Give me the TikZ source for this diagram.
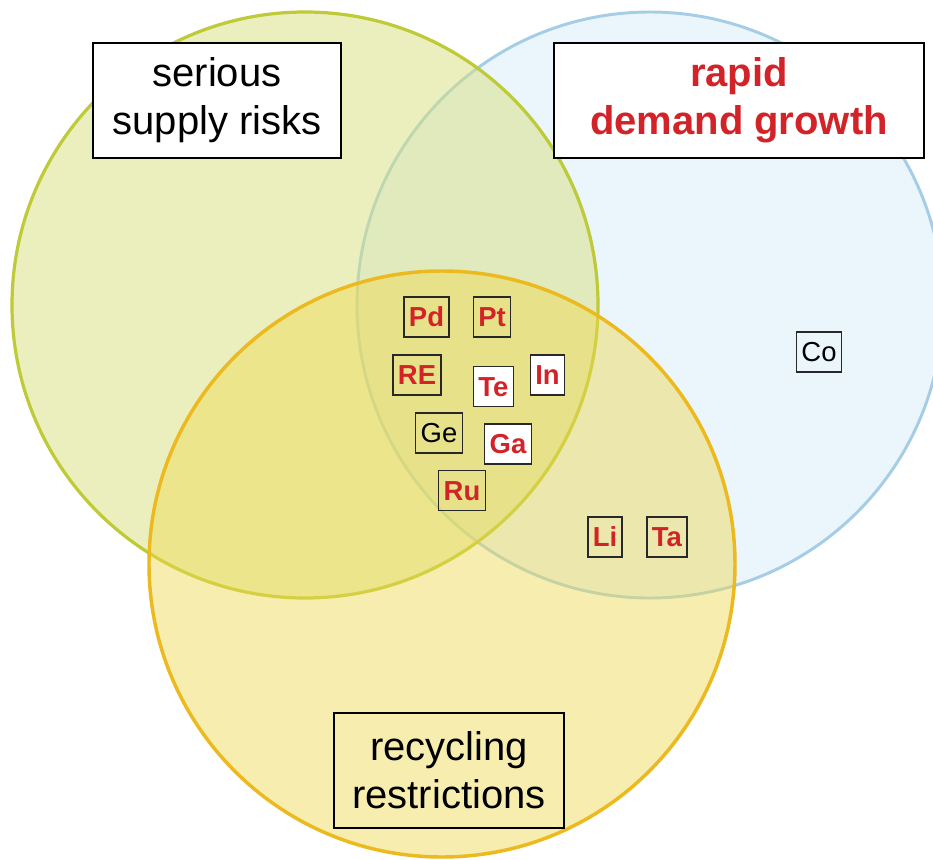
\documentclass[tikz,border=0pt]{standalone}
\usepackage{fontspec}
\setmainfont{Liberation Sans}
\definecolor{bluefill}{RGB}{234,245,252}
\definecolor{bluestroke}{RGB}{165,205,230}
\definecolor{greenfill}{RGB}{217,225,125}
\definecolor{greenstroke}{RGB}{190,202,55}
\definecolor{yellowfill}{RGB}{239,217,79}
\definecolor{yellowstroke}{RGB}{236,185,30}
\definecolor{elemred}{RGB}{210,35,40}
\definecolor{boxline}{RGB}{40,40,40}
\begin{document}
\begin{tikzpicture}[x=0.75pt,y=-0.75pt,
  lbl/.style={draw=black, line width=1.2pt, minimum height=86.25pt, align=center,
    inner sep=0pt, font=\fontsize{30}{36}\selectfont},
  elem/.style={draw=boxline, line width=1.1pt, inner xsep=3.75pt, inner ysep=0pt,
    minimum height=30pt, text height=14.75pt, text depth=0pt,
    font=\fontsize{20.6}{24}\selectfont},
  redelem/.style={elem, text=elemred, font=\fontsize{20.6}{24}\selectfont\bfseries},
  whitebox/.style={fill=white}]
\useasboundingbox (0,0) rectangle (933,860);
\clip (0,0) rectangle (933,860);
\fill[white] (0,0) rectangle (933,860);
% circles
\filldraw[fill=bluefill, draw=bluestroke, line width=2.2pt] (650,305) circle[radius=219.75pt];
\fill[greenfill, fill opacity=0.5] (305,305) circle[radius=219.75pt];
\draw[greenstroke, line width=2.4pt] (305,305) circle[radius=219.75pt];
\fill[yellowfill, fill opacity=0.45] (442,564) circle[radius=219.75pt];
\draw[yellowstroke, line width=2.6pt] (442,564) circle[radius=219.75pt];
% labels
\node[lbl, fill=white, minimum width=186pt] (supply) at (217,100.5) {serious\\supply risks};
\node[lbl, fill=white, minimum width=277.5pt, text=elemred,
  font=\fontsize{30}{36}\selectfont\bfseries] (demand) at (739,100.5) {rapid\\demand growth};
\node[lbl, minimum width=172.5pt] (recycle) at (449,770.5) {recycling\\restrictions};
% elements
\node[redelem] (pd) at (426.5,317) {Pd};
\node[redelem] (pt) at (492,317) {Pt};
\node[redelem] (re) at (417,375) {RE};
\node[redelem, whitebox] (te) at (493.5,386.5) {Te};
\node[redelem, whitebox] (in) at (547.5,375) {In};
\node[elem] (ge) at (439,433) {Ge};
\node[redelem, whitebox] (ga) at (508,444) {Ga};
\node[redelem] (ru) at (462,490.5) {Ru};
\node[elem] (co) at (819,352) {Co};
\node[redelem] (li) at (605,537) {Li};
\node[redelem] (ta) at (667,537) {Ta};
\end{tikzpicture}
\end{document}
